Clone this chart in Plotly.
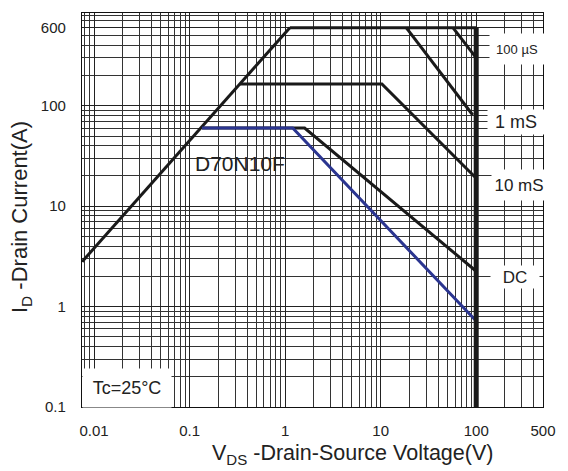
import plotly.graph_objects as go

# Tick labels
x_ticks = [0.01, 0.1, 1, 10, 100, 500]
y_ticks = [0.1, 1, 10, 100, 600]

# Limit curves (VDS in V, ID in A)
rds_v = [0.0075, 1.12]
rds_i = [2.8, 600]
top_v = [1.12, 100]
top_i = [600, 600]
us100_v = [57, 100]
us100_i = [600, 300]
ms1_v = [18.5, 92]
ms1_i = [600, 81]
ms10_v = [0.337, 10.3, 100]
ms10_i = [165, 165, 19]
dc_v = [0.135, 1.6, 100]
dc_i = [60, 60, 2.25]
blue_v = [0.135, 1.2, 100]
blue_i = [60, 60, 0.72]
bv_v = [100, 100]
bv_i = [0.1, 600]

BLACK = "#1a1a1a"
BLUE = "#2b3590"
FONT = "Liberation Sans, Arial, sans-serif"

fig = go.Figure()
for xs, ys, col, w in [
    (rds_v, rds_i, BLACK, 3),
    (top_v, top_i, BLACK, 3),
    (us100_v, us100_i, BLACK, 3),
    (ms1_v, ms1_i, BLACK, 3),
    (ms10_v, ms10_i, BLACK, 3),
    (dc_v, dc_i, BLACK, 3),
    (blue_v, blue_i, BLUE, 3),
    (bv_v, bv_i, BLACK, 5),
]:
    fig.add_trace(go.Scatter(x=xs, y=ys, mode="lines",
                             line=dict(color=col, width=w),
                             showlegend=False, hoverinfo="skip"))

# page offset of the plot div (browser body margin)
OFF = 8
W, H = 568 - OFF, 471 - OFF
# target plot-area edges on screen
L, R, T, B = 82, 543, 13, 407

def px(x):
    return (x - L) / (R - L)
def py(y):
    return (B - y) / (B - T)

axis_common = dict(
    type="log", showgrid=True, gridcolor="#222", gridwidth=1,
    showline=True, linecolor="#111", linewidth=1.2, mirror=True,
    ticks="", zeroline=False,
    tickfont=dict(family=FONT, size=15, color="#222"),
    minor=dict(showgrid=True, gridcolor="#333", gridwidth=1, dtick="D1"),
)

fig.update_xaxes(range=[-2.126, 2.699], tickvals=x_ticks,
                 ticktext=[str(v) for v in x_ticks],
                 ticklabelstandoff=10, **axis_common)
fig.update_yaxes(range=[-1, 2.924], tickvals=y_ticks,
                 ticktext=[str(v) for v in y_ticks],
                 ticklabelstandoff=12, **axis_common)

ann = []
def note(text, x, y, size, bg=None, w=None, h=None, angle=0):
    d = dict(text=text, x=px(x), y=py(y), xref="paper", yref="paper",
             showarrow=False, xanchor="center", yanchor="middle",
             font=dict(family=FONT, size=size, color="#222"),
             textangle=angle)
    if bg:
        d.update(bgcolor=bg)
    if w:
        d.update(width=w)
    if h:
        d.update(height=h)
    ann.append(d)

note("100 µS", 517, 49, 13, "white", 52, 28)
note("1 mS", 516, 122, 18, "white", 54, 22)
note("10 mS", 519, 185, 17, "white", 52, 28)
note("DC", 515, 277, 17, "white", 46, 20)
note("D70N10F", 240, 163, 21)
note("Tc=25°C", 127, 388, 18, "white", 86, 36)
note("V<sub>DS</sub> -Drain-Source Voltage(V)", 352, 455, 21.5)
note("I<sub>D</sub> -Drain Current(A)", 21, 217, 22, angle=-90)

fig.update_layout(
    width=W, height=H,
    margin=dict(l=L - OFF, r=OFF + W - R, t=T - OFF, b=OFF + H - B,
                autoexpand=False),
    paper_bgcolor="white", plot_bgcolor="white",
    annotations=ann,
)

fig.write_html("out.html")
